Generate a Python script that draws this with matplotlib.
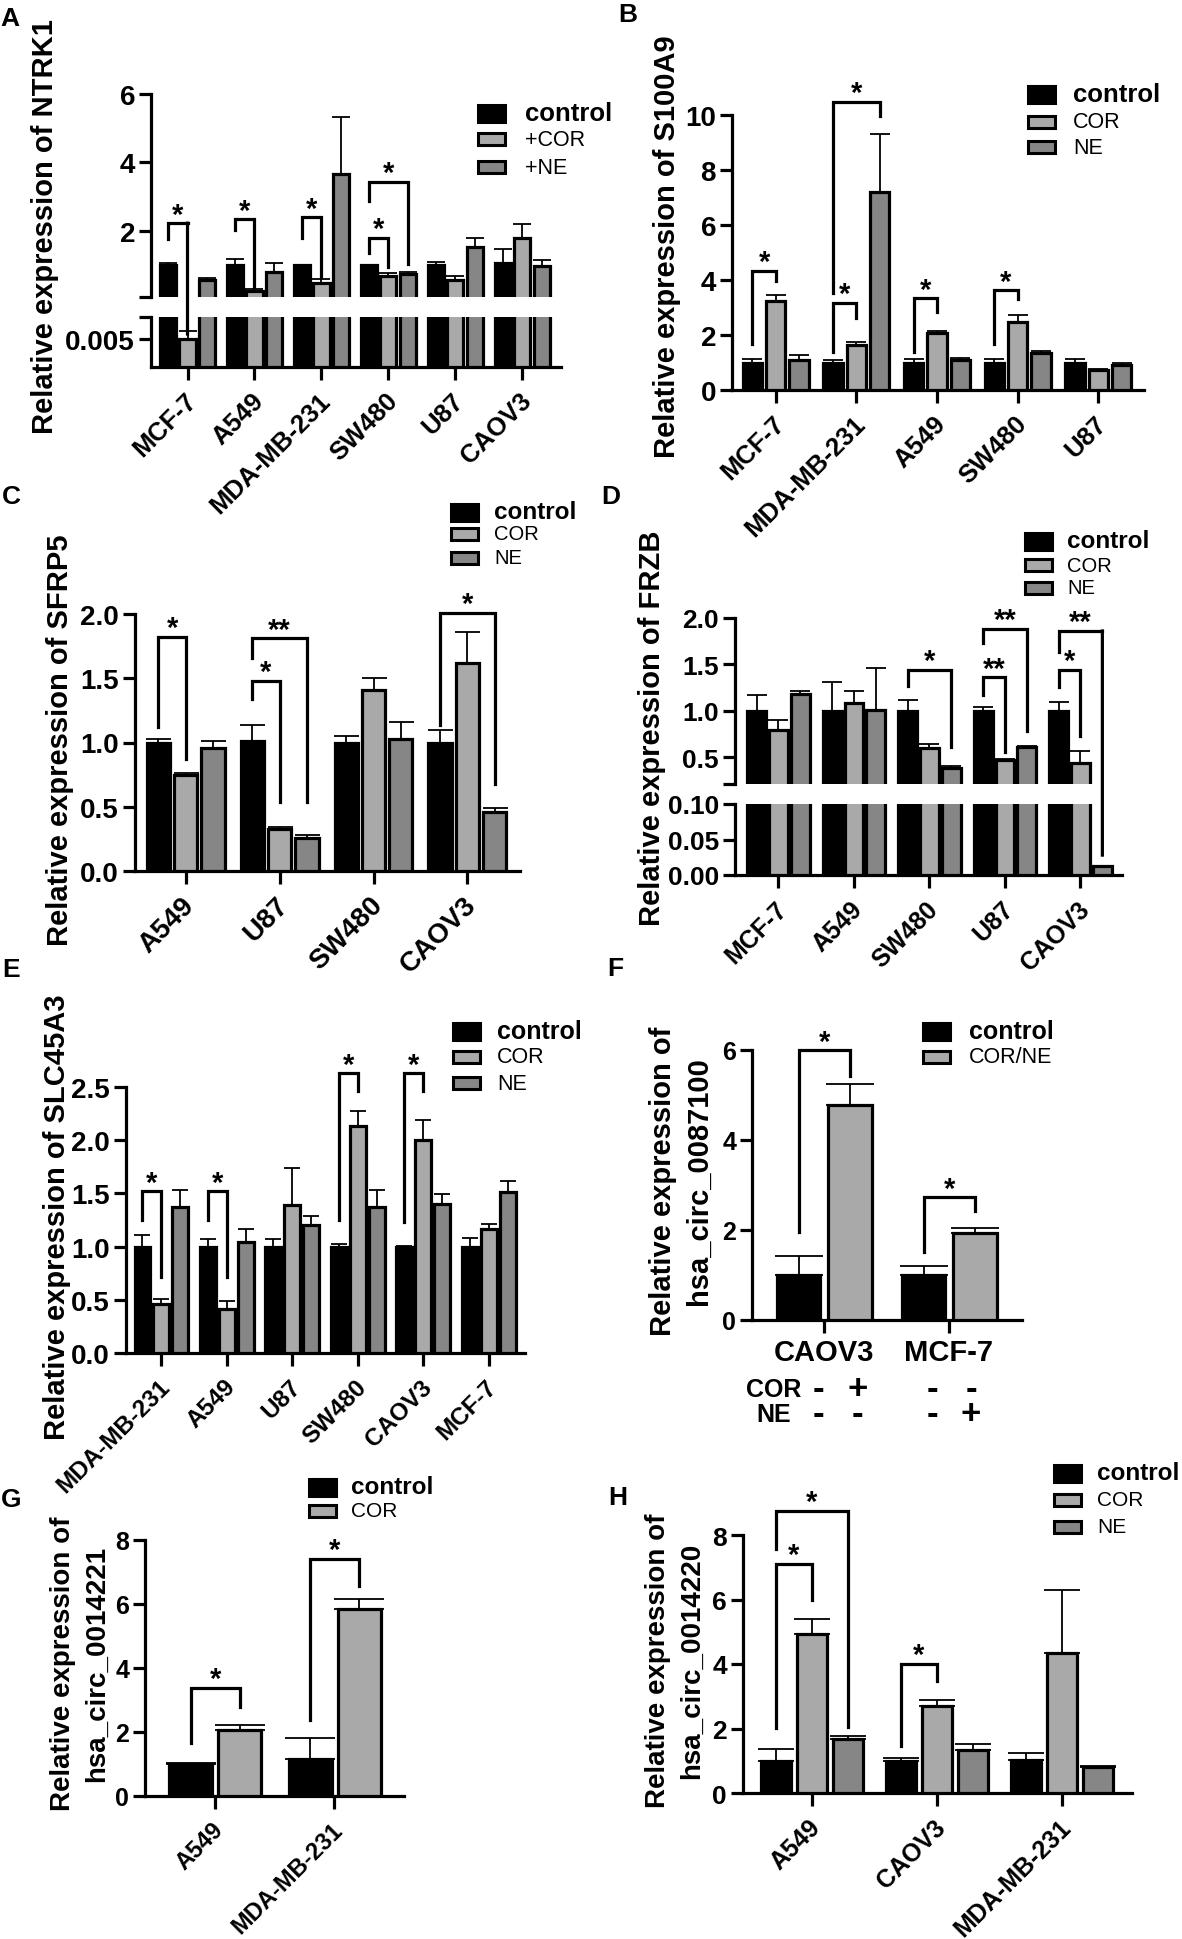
import matplotlib
matplotlib.use('Agg')
import matplotlib.pyplot as plt
from matplotlib.patches import Rectangle, ConnectionPatch
from matplotlib.ticker import FixedLocator
from matplotlib.transforms import blended_transform_factory, ScaledTranslation
import numpy as np

plt.rcParams['font.family'] = ['Liberation Sans', 'DejaVu Sans']
plt.rcParams['font.weight'] = 'bold'

# ---------------- data ----------------
a_cells = ['MCF-7', 'A549', 'MDA-MB-231', 'SW480', 'U87', 'CAOV3']
a_control = [1.0, 1.0, 0.99, 0.99, 0.99, 1.05]
a_control_err = [0.06, 0.18, 0.01, 0.01, 0.09, 0.40]
a_cor = [0.005, 0.25, 0.48, 0.68, 0.57, 1.79]
a_cor_err = [0.0013, 0.05, 0.11, 0.07, 0.10, 0.41]
a_ne = [0.56, 0.79, 3.66, 0.72, 1.53, 0.97]
a_ne_err = [0.06, 0.27, 1.66, 0.06, 0.26, 0.18]
a_labels = ['control', '+COR', '+NE']

b_cells = ['MCF-7', 'MDA-MB-231', 'A549', 'SW480', 'U87']
b_control = [1.0, 1.0, 1.0, 1.0, 1.0]
b_control_err = [0.12, 0.09, 0.14, 0.12, 0.12]
b_cor = [3.24, 1.63, 2.09, 2.48, 0.72]
b_cor_err = [0.21, 0.12, 0.06, 0.26, 0.03]
b_ne = [1.09, 7.21, 1.09, 1.33, 0.90]
b_ne_err = [0.17, 2.10, 0.09, 0.09, 0.10]

c_cells = ['A549', 'U87', 'SW480', 'CAOV3']
c_control = [1.0, 1.01, 1.0, 1.0]
c_control_err = [0.025, 0.13, 0.05, 0.10]
c_cor = [0.75, 0.33, 1.41, 1.62]
c_cor_err = [0.015, 0.01, 0.09, 0.24]
c_ne = [0.96, 0.26, 1.03, 0.46]
c_ne_err = [0.05, 0.02, 0.13, 0.03]

d_cells = ['MCF-7', 'A549', 'SW480', 'U87', 'CAOV3']
d_control = [1.0, 1.0, 1.0, 1.0, 1.0]
d_control_err = [0.17, 0.31, 0.12, 0.04, 0.09]
d_cor = [0.79, 1.08, 0.60, 0.47, 0.44]
d_cor_err = [0.11, 0.13, 0.04, 0.01, 0.13]
d_ne = [1.18, 1.01, 0.38, 0.61, 0.012]
d_ne_err = [0.03, 0.45, 0.02, 0.01, 0.001]

e_cells = ['MDA-MB-231', 'A549', 'U87', 'SW480', 'CAOV3', 'MCF-7']
e_control = [1.0, 1.0, 1.0, 1.0, 1.0, 1.0]
e_control_err = [0.11, 0.07, 0.07, 0.02, 0.01, 0.08]
e_cor = [0.46, 0.41, 1.39, 2.13, 2.00, 1.17]
e_cor_err = [0.05, 0.08, 0.35, 0.14, 0.19, 0.04]
e_ne = [1.37, 1.04, 1.20, 1.37, 1.40, 1.51]
e_ne_err = [0.16, 0.13, 0.09, 0.16, 0.09, 0.11]

f_cells = ['CAOV3', 'MCF-7']
f_control = [1.0, 1.0]
f_control_err = [0.43, 0.19]
f_treated = [4.78, 1.94]
f_treated_err = [0.46, 0.11]
f_cor_signs = [['-', '+'], ['-', '-']]
f_ne_signs = [['-', '-'], ['-', '+']]

g_cells = ['A549', 'MDA-MB-231']
g_control = [1.0, 1.17]
g_control_err = [0.04, 0.63]
g_cor = [2.05, 5.83]
g_cor_err = [0.17, 0.32]

h_cells = ['A549', 'CAOV3', 'MDA-MB-231']
h_control = [1.0, 1.0, 1.02]
h_control_err = [0.37, 0.07, 0.23]
h_cor = [4.93, 2.71, 4.33]
h_cor_err = [0.47, 0.17, 1.97]
h_ne = [1.67, 1.33, 0.80]
h_ne_err = [0.11, 0.18, 0.05]

# significance annotations: (group, bar_i, bar_j, top, left_end, right_end, label)
a_sig = [(0, 0, 1, 2.22, 1.77, 0.0058, '*'), (1, 0, 1, 2.33, 2.02, 0.34, '*'),
         (2, 0, 1, 2.39, 1.80, 0.64, '*'), (3, 0, 1, 1.79, 1.36, 0.94, '*'),
         (3, 0, 2, 3.43, 2.88, 1.03, '*')]
b_sig = [(0, 0, 1, 4.33, 1.66, 3.97, '*'), (1, 0, 1, 3.16, 1.40, 2.63, '*'),
         (1, 0, 2, 10.47, 3.54, 9.98, '*'), (2, 0, 1, 3.33, 1.38, 2.84, '*'),
         (3, 0, 1, 3.63, 1.66, 3.30, '*')]
c_sig = [(0, 0, 1, 1.82, 1.12, 0.87, '*'), (1, 0, 1, 1.48, 1.34, 0.54, '*'),
         (1, 0, 2, 1.81, 1.66, 0.54, '**'), (3, 0, 2, 2.01, 1.14, 0.68, '*')]
d_sig = [(2, 0, 2, 1.44, 1.27, 0.61, '*'), (3, 0, 1, 1.36, 1.17, 0.55, '**'),
         (3, 0, 2, 1.88, 1.73, 0.78, '**'), (4, 0, 1, 1.44, 1.26, 0.73, '*'),
         (4, 0, 2, 1.86, 1.63, 0.028, '**')]
e_sig = [(0, 0, 1, 1.52, 1.25, 0.71, '*'), (1, 0, 1, 1.52, 1.25, 0.71, '*'),
         (3, 0, 1, 2.63, 1.25, 2.46, '*'), (4, 0, 1, 2.63, 1.23, 2.46, '*')]
f_sig = [(0, 0, 1, 5.99, 1.95, 5.42, '*'), (1, 0, 1, 2.73, 1.51, 2.43, '*')]
g_sig = [(0, 0, 1, 3.39, 1.65, 2.78, '*'), (1, 0, 1, 7.42, 2.38, 6.56, '*')]
h_sig = [(0, 0, 1, 7.10, 2.03, 6.00, '*'), (0, 0, 2, 8.75, 7.57, 2.04, '*'),
         (1, 0, 1, 4.00, 1.45, 3.48, '*')]

# ---------------- style ----------------
W, H = 1182, 1940
fig = plt.figure(figsize=(W / 100, H / 100), dpi=100)
C_CTRL, C_COR, C_NE = '#000000', '#A9A9A9', '#868686'
LW = 2.3
OFF3 = [-0.29, 0.0, 0.29]
OFF2 = [-0.2, 0.21]


def px_axes(x0, x1, y0, y1):
    return fig.add_axes([x0 / W, 1 - y1 / H, (x1 - x0) / W, (y1 - y0) / H])


def style(ax, bottom=True, tfs=19):
    for s in ['top', 'right']:
        ax.spines[s].set_visible(False)
    ax.spines['bottom'].set_visible(bottom)
    ax.spines['left'].set_linewidth(LW)
    ax.spines['bottom'].set_linewidth(LW)
    ax.tick_params(axis='both', which='both', width=LW, length=8.5,
                   direction='out', color='black', labelsize=tfs, pad=3)
    ax.tick_params(axis='x', length=9, pad=4)
    ax.patch.set_alpha(0)
    if not bottom:
        ax.tick_params(axis='x', which='both', bottom=False, labelbottom=False)


def draw_bars(ax, series, errs, colors, offsets, width, capsize):
    n = len(series[0])
    x = np.arange(n)
    for vals, err, col, off in zip(series, errs, colors, offsets):
        ax.bar(x + off, vals, width, color=col, edgecolor='black',
               linewidth=LW, zorder=3)
        ax.errorbar(x + off, vals, yerr=[np.zeros(n), err], fmt='none',
                    ecolor='black', elinewidth=1.3, capsize=capsize,
                    capthick=1.3, zorder=2)


def xlabels(ax, cells, fs, rot=45):
    ax.set_xticks(np.arange(len(cells)))
    if rot:
        ax.set_xticklabels(cells, rotation=rot, ha='right',
                           rotation_mode='anchor', va='center', fontsize=fs)
        ax.tick_params(axis='x', pad=12.5)
        shift = ScaledTranslation(5 / 100, 0, fig.dpi_scale_trans)
        for lab in ax.get_xticklabels():
            lab.set_transform(lab.get_transform() + shift)
    else:
        ax.set_xticklabels(cells, fontsize=fs)


def sig(ax, specs, offsets, fs=21, ax_low=None):
    for g, i, j, top, y1, y2, lab in specs:
        x1 = g + offsets[i]
        x2 = g + offsets[j]
        kw = dict(color='black', lw=LW, clip_on=False, zorder=6,
                  solid_capstyle='projecting', solid_joinstyle='miter')
        if ax_low is not None and y2 < ax.get_ylim()[0]:
            ax.plot([x1, x1, x2], [y1, top, top], **kw)
            con = ConnectionPatch(xyA=(x2, top), coordsA=ax.transData,
                                  xyB=(x2, y2), coordsB=ax_low.transData,
                                  color='black', lw=LW, zorder=6,
                                  capstyle='projecting')
            fig.add_artist(con)
        else:
            ax.plot([x1, x1, x2, x2], [y1, top, top, y2], **kw)
        ax.annotate(lab, xy=((x1 + x2) / 2, top), xytext=(0, 0.5),
                    textcoords='offset points', ha='center', va='baseline',
                    fontsize=fs, fontweight='bold', annotation_clip=False)


def legend(xp, rows, labels, colors, xt, fs1, fs2, pw=27):
    for k, (y, lab, col) in enumerate(zip(rows, labels, colors)):
        h = 17 if k == 0 else 12.5
        fig.add_artist(Rectangle((xp / W, 1 - (y + h / 2) / H), pw / W, h / H,
                                 transform=fig.transFigure, fc=col, ec='black',
                                 lw=2.2))
        fig.text(xt / W, 1 - y / H, lab, ha='left', va='center',
                 fontsize=fs1 if k == 0 else fs2,
                 fontweight='bold' if k == 0 else 'normal')


def ylab(x, y, text, fs=21, ls=1.35):
    fig.text(x / W, 1 - y / H, text, rotation=90, ha='center', va='center',
             fontsize=fs, fontweight='bold', linespacing=ls,
             multialignment='center')


def letter(x, y, t):
    fig.text(x / W, 1 - y / H, t, ha='center', va='center', fontsize=19,
             fontweight='bold')


def break_tick(ax, y):
    ax.yaxis.set_minor_locator(FixedLocator([y]))
    ax.tick_params(axis='y', which='minor', length=8.5, width=LW)


cols3 = [C_CTRL, C_COR, C_NE]
cols2 = [C_CTRL, C_COR]

# ---------------- Panel A (broken axis) ----------------
axA = px_axes(151, 561, 95, 298)
axA2 = px_axes(151, 561, 318, 368)
for ax in (axA, axA2):
    draw_bars(ax, [a_control, a_cor, a_ne], [a_control_err, a_cor_err, a_ne_err],
              cols3, OFF3, 0.24, 6.5)
    ax.set_xlim(-0.545, 5.576)
axA.set_ylim(0.06, 6)
axA2.set_ylim(0, 0.0088)
style(axA, bottom=False, tfs=20)
style(axA2, bottom=True, tfs=20)
axA.set_yticks([2, 4, 6])
axA.set_yticklabels(['2', '4', '6'])
break_tick(axA, 0.06)
axA2.set_yticks([0.005])
axA2.set_yticklabels(['0.005'])
break_tick(axA2, 0.0088)
xlabels(axA2, a_cells, 18.5)
sig(axA, a_sig, OFF3, ax_low=axA2)
ylab(45, 227, 'Relative expression of NTRK1')
legend(478, [114, 140, 168], a_labels, cols3, 525, 18.5, 15.5)
letter(10, 19, 'A')

# ---------------- Panel B ----------------
axB = px_axes(732, 1144, 116, 391)
draw_bars(axB, [b_control, b_cor, b_ne], [b_control_err, b_cor_err, b_ne_err],
          cols3, OFF3, 0.24, 7.5)
axB.set_xlim(-0.543, 4.567)
axB.set_ylim(0, 10)
style(axB, tfs=20)
axB.set_yticks([0, 2, 4, 6, 8, 10])
xlabels(axB, b_cells, 18.5)
sig(axB, b_sig, OFF3)
ylab(667, 247, 'Relative expression of S100A9')
legend(1028, [95, 123, 148], ['control', 'COR', 'NE'], cols3, 1073, 18.5, 15.5)
letter(628, 15, 'B')

# ---------------- Panel C ----------------
axC = px_axes(135, 520, 615, 872)
draw_bars(axC, [c_control, c_cor, c_ne], [c_control_err, c_cor_err, c_ne_err],
          cols3, OFF3, 0.25, 9)
axC.set_xlim(-0.54, 3.56)
axC.set_ylim(0, 2)
style(axC, tfs=20)
axC.set_yticks([0, 0.5, 1.0, 1.5, 2.0])
axC.set_yticklabels(['0.0', '0.5', '1.0', '1.5', '2.0'])
xlabels(axC, c_cells, 20)
sig(axC, c_sig, OFF3)
ylab(60, 740, 'Relative expression of SFRP5')
legend(451, [513, 535, 559], ['control', 'COR', 'NE'], cols3, 494, 17.5, 14.5)
letter(11, 497, 'C')

# ---------------- Panel D (broken axis) ----------------
axD = px_axes(735, 1122, 619, 785)
axD2 = px_axes(735, 1122, 805, 876)
for ax in (axD, axD2):
    draw_bars(ax, [d_control, d_cor, d_ne], [d_control_err, d_cor_err, d_ne_err],
              cols3, OFF3, 0.25, 7.5)
    ax.set_xlim(-0.576, 4.55)
axD.set_ylim(0.21, 2.0)
axD2.set_ylim(0, 0.10)
style(axD, bottom=False, tfs=19)
style(axD2, bottom=True, tfs=19)
axD.set_yticks([0.5, 1.0, 1.5, 2.0])
axD.set_yticklabels(['0.5', '1.0', '1.5', '2.0'])
break_tick(axD, 0.21)
axD2.set_yticks([0, 0.05, 0.10])
axD2.set_yticklabels(['0.00', '0.05', '0.10'])
xlabels(axD2, d_cells, 18)
sig(axD, d_sig, OFF3, ax_low=axD2)
ylab(652, 728, 'Relative expression of FRZB')
legend(1025, [542, 566, 589], ['control', 'COR', 'NE'], cols3, 1067, 17.5, 14.5)
letter(611, 497, 'D')

# ---------------- Panel E ----------------
axE = px_axes(126, 525, 1088, 1354)
draw_bars(axE, [e_control, e_cor, e_ne], [e_control_err, e_cor_err, e_ne_err],
          cols3, OFF3, 0.24, 6)
axE.set_xlim(-0.54, 5.555)
axE.set_ylim(0, 2.5)
style(axE, tfs=20)
axE.set_yticks([0, 0.5, 1.0, 1.5, 2.0, 2.5])
axE.set_yticklabels(['0.0', '0.5', '1.0', '1.5', '2.0', '2.5'])
xlabels(axE, e_cells, 17.5)
sig(axE, e_sig, OFF3)
ylab(57, 1217, 'Relative expression of SLC45A3')
legend(453, [1032, 1058, 1084], ['control', 'COR', 'NE'], cols3, 497, 18, 15.5)
letter(11, 970, 'E')

# ---------------- Panel F ----------------
axF = px_axes(752, 1022, 1051, 1321)
draw_bars(axF, [f_control, f_treated], [f_control_err, f_treated_err],
          cols2, OFF2, 0.35, 17)
axF.set_xlim(-0.572, 1.587)
axF.set_ylim(0, 6)
style(axF, tfs=18)
axF.set_yticks([0, 2, 4, 6])
xlabels(axF, f_cells, 21, rot=0)
axF.tick_params(axis='x', pad=4)
sig(axF, f_sig, OFF2)
ylab(681, 1181, 'Relative expression of\nhsa_circ_0087100')
legend(923, [1032, 1058], ['control', 'COR/NE'], cols2, 969, 18, 15.5)
letter(615, 969, 'F')
# treatment table under the x axis (one two-line text per column;
# vertical anchor is the baseline of the last line)
trF = blended_transform_factory(axF.transData, fig.transFigure)
fig.text(774 / W, 1 - 1422 / H, 'COR\nNE', ha='center', va='baseline',
         multialignment='center', fontsize=18, fontweight='bold',
         linespacing=1.05)
sign_off = [[-0.04, 0.27], [-0.13, 0.18]]
for g in range(len(f_cells)):
    for k in range(2):
        col_txt = f_cor_signs[g][k] + '\n' + f_ne_signs[g][k]
        axF.text(g + sign_off[g][k], 1 - 1424 / H, col_txt, transform=trF,
                 ha='center', va='baseline', multialignment='center',
                 fontsize=25, fontweight='bold', linespacing=0.68)

# ---------------- Panel G ----------------
axG = px_axes(145, 404, 1541, 1797)
draw_bars(axG, [g_control, g_cor], [g_control_err, g_cor_err],
          cols2, OFF2, 0.36, 18)
axG.set_xlim(-0.585, 1.586)
axG.set_ylim(0, 8)
style(axG, tfs=18)
axG.set_yticks([0, 2, 4, 6, 8])
xlabels(axG, g_cells, 17)
sig(axG, g_sig, OFF2)
ylab(80, 1664, 'Relative expression of\nhsa_circ_0014221', fs=20, ls=1.4)
legend(309, [1488, 1512], ['control', 'COR'], cols2, 351, 17.5, 15)
letter(11, 1500, 'G')

# ---------------- Panel H ----------------
axH = px_axes(743, 1132, 1536, 1794)
draw_bars(axH, [h_control, h_cor, h_ne], [h_control_err, h_cor_err, h_ne_err],
          cols3, OFF3, 0.24, 13)
axH.set_xlim(-0.552, 2.558)
axH.set_ylim(0, 8)
style(axH, tfs=19)
axH.set_yticks([0, 2, 4, 6, 8])
xlabels(axH, h_cells, 18)
sig(axH, h_sig, OFF3)
ylab(675, 1661, 'Relative expression of\nhsa_circ_0014220', fs=20, ls=1.4)
legend(1054, [1474, 1501, 1528], ['control', 'COR', 'NE'], cols3, 1097, 17.5, 15)
letter(618, 1498, 'H')

fig.savefig('out.png', dpi=100)
